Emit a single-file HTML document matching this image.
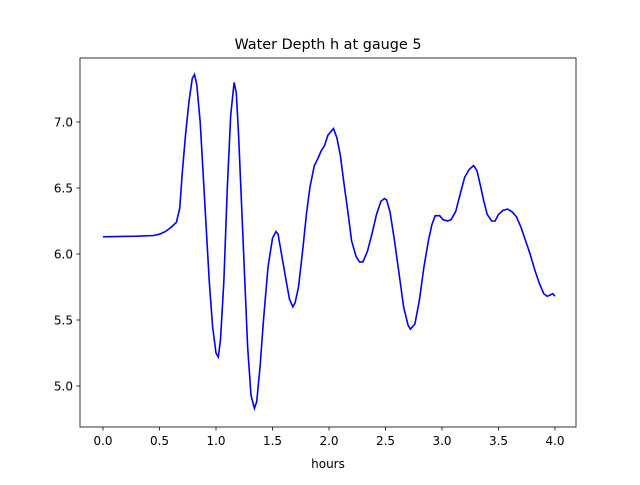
<!DOCTYPE html>
<html><head><meta charset="utf-8"><style>
body{margin:0;background:#fff;}
svg text{font-family:"DejaVu Sans","Liberation Sans",sans-serif;fill:#000;}
</style></head><body>
<svg id="chart" width="640" height="480" xmlns="http://www.w3.org/2000/svg">
<rect width="640" height="480" fill="#fff"/>
<text x="328" y="49" font-size="14.4" text-anchor="middle">Water Depth h at gauge 5</text>
<text x="328" y="468" font-size="12" text-anchor="middle">hours</text>
<g id="ticks"></g>
<path id="line" fill="none" stroke="#0000ff" stroke-width="1.6"/>
<rect x="80" y="58" width="496" height="369" fill="none" stroke="#000" stroke-width="0.8"/>
</svg>
<script>
const hours=[0,0.3,0.45,0.5,0.55,0.6,0.65,0.68,0.7,0.73,0.76,0.79,0.81,0.83,0.86,0.9,0.94,0.97,1.0,1.02,1.04,1.07,1.1,1.13,1.16,1.18,1.2,1.24,1.28,1.31,1.34,1.36,1.39,1.42,1.46,1.5,1.53,1.55,1.58,1.62,1.65,1.68,1.7,1.73,1.77,1.8,1.83,1.87,1.9,1.93,1.96,1.99,2.02,2.04,2.07,2.1,2.13,2.17,2.2,2.24,2.27,2.3,2.34,2.38,2.42,2.46,2.49,2.51,2.54,2.58,2.62,2.66,2.7,2.72,2.76,2.8,2.84,2.88,2.91,2.94,2.98,3.01,3.05,3.08,3.12,3.16,3.2,3.24,3.28,3.31,3.34,3.37,3.4,3.44,3.47,3.5,3.54,3.58,3.62,3.66,3.7,3.74,3.78,3.82,3.86,3.9,3.93,3.96,3.98,4.0];
const depth=[6.13,6.135,6.14,6.15,6.17,6.2,6.24,6.35,6.6,6.9,7.15,7.33,7.36,7.28,7.0,6.4,5.8,5.45,5.25,5.22,5.35,5.8,6.5,7.05,7.3,7.22,6.9,6.1,5.3,4.93,4.83,4.88,5.15,5.5,5.9,6.12,6.17,6.15,6.0,5.8,5.66,5.6,5.63,5.75,6.05,6.3,6.5,6.67,6.72,6.78,6.82,6.9,6.93,6.95,6.88,6.75,6.55,6.3,6.1,5.98,5.94,5.94,6.02,6.15,6.3,6.4,6.42,6.41,6.32,6.1,5.85,5.6,5.46,5.43,5.47,5.65,5.9,6.1,6.22,6.29,6.29,6.26,6.25,6.26,6.32,6.45,6.58,6.64,6.67,6.63,6.52,6.4,6.3,6.25,6.25,6.3,6.33,6.34,6.32,6.28,6.2,6.1,6.0,5.88,5.78,5.7,5.68,5.69,5.7,5.68];
const xTicks=[0,0.5,1,1.5,2,2.5,3,3.5,4];
const yTicks=[5,5.5,6,6.5,7];
const xs=v=>103+v*113;
const ys=v=>254-(v-6)*132;
const NS="http://www.w3.org/2000/svg";
const g=document.getElementById('ticks');
function mk(tag,attrs){const e=document.createElementNS(NS,tag);for(const k in attrs)e.setAttribute(k,attrs[k]);g.appendChild(e);return e;}
xTicks.forEach(t=>{
  const l=mk('line',{x1:xs(t),x2:xs(t),y1:427,y2:430.5,stroke:'#000','stroke-width':0.8});
  
  
  const tx=mk('text',{x:xs(t),y:445,'font-size':12,'text-anchor':'middle'});
  tx.textContent=t.toFixed(1);
  
  
});
yTicks.forEach(t=>{
  const l=mk('line',{x1:76.5,x2:80,y1:ys(t),y2:ys(t),stroke:'#000','stroke-width':0.8});
  
  
  const tx=mk('text',{x:73,y:ys(t)+4.5,'font-size':12,'text-anchor':'end'});
  tx.textContent=t.toFixed(1);
  
  
});
document.getElementById('line').setAttribute('d',hours.map((h,i)=>(i?'L':'M')+xs(h).toFixed(1)+','+ys(depth[i]).toFixed(1)).join(''));
</script>
</body></html>
